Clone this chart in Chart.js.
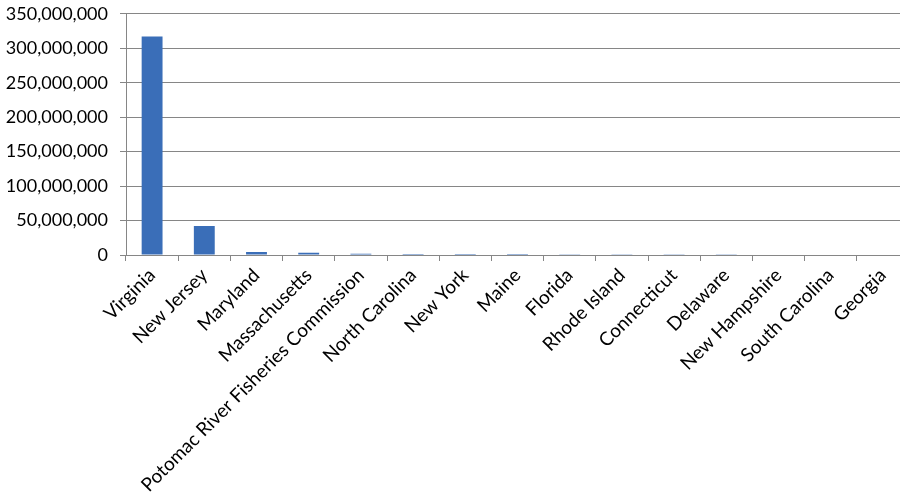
<!DOCTYPE html>
<html><head><meta charset="utf-8">
<script src="https://cdn.jsdelivr.net/npm/chart.js@4"></script>
<style>html,body{margin:0;padding:0;background:#fff;overflow:hidden}#wrap{width:900px;height:498px;overflow:hidden;position:relative}#c{position:absolute;left:0;top:-9px}</style>
</head><body><div id="wrap"><canvas id="c" width="912" height="507"></canvas></div>
<script>
const categories = ["Virginia","New Jersey","Maryland","Massachusetts","Potomac River Fisheries Commission","North Carolina","New York","Maine","Florida","Rhode Island","Connecticut","Delaware","New Hampshire","South Carolina","Georgia"];
const values = [317000000,42000000,4500000,3300000,1800000,1600000,1400000,1300000,1200000,1100000,1000000,1000000,0,0,0];
const yTicks = [0,50000000,100000000,150000000,200000000,250000000,300000000,350000000];

Chart.defaults.font.family = "Lato, 'Liberation Sans', sans-serif";
Chart.defaults.font.size = 18;
Chart.defaults.color = '#000';
new Chart(document.getElementById('c'), {
  type: 'bar',
  data: { labels: categories, datasets: [{ data: values, backgroundColor: '#3A6EB8', barPercentage: 0.4, categoryPercentage: 1 }] },
  options: {
    responsive: false, animation: false, devicePixelRatio: 1,
    layout: { padding: { top: 4, right: 3, left: 0, bottom: 0 } },
    plugins: { legend: { display: false }, tooltip: { enabled: false } },
    scales: {
      x: {
        offset: true,
        grid: { display: true, offset: true, drawOnChartArea: false, drawTicks: true, tickLength: 6, color: '#868686' },
        border: { color: '#868686' },
        ticks: { minRotation: 45, maxRotation: 45, autoSkip: false, padding: 3, font: { size: 19 } },
        afterFit: s => { s.height = 243; }
      },
      y: {
        min: 0, max: 350000000,
        afterBuildTicks: s => { s.ticks = yTicks.map(v => ({ value: v })); },
        ticks: { padding: 12, callback: v => Number(v).toLocaleString('en-US') },
        grid: { color: '#868686', tickLength: 6 },
        border: { color: '#868686' },
        afterFit: s => { s.width = 126; }
      }
    }
  }
});
</script></body></html>
